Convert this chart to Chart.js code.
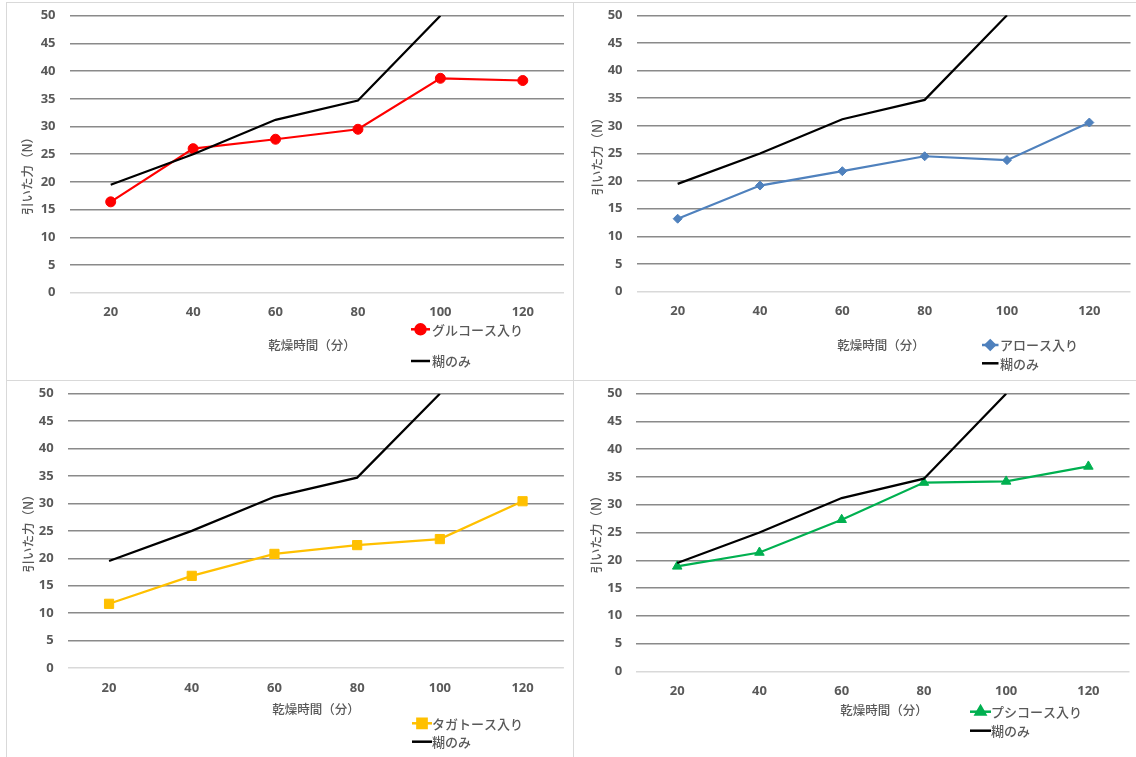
<!DOCTYPE html>
<html>
<head>
<meta charset="utf-8">
<script src="https://cdn.jsdelivr.net/npm/chart.js@4.4.1/dist/chart.umd.min.js"></script>
<style>
  html, body { margin: 0; padding: 0; background: #ffffff; }
  body { width: 1136px; height: 757px; position: relative; overflow: hidden; }
  .frame { position: absolute; box-sizing: border-box; border: 1px solid #d9d9d9; }
  canvas { position: absolute; }
</style>
</head>
<body>
<div class="frame" style="left:6px;top:2px;width:568px;height:379px"></div>
<div class="frame" style="left:573px;top:2px;width:580px;height:379px"></div>
<div class="frame" style="left:6px;top:380px;width:568px;height:400px"></div>
<div class="frame" style="left:573px;top:380px;width:580px;height:400px"></div>
<canvas id="c1"></canvas>
<canvas id="c2"></canvas>
<canvas id="c3"></canvas>
<canvas id="c4"></canvas>
<script>
// Drying time categories (minutes)
const dryingTimes = ['20', '40', '60', '80', '100', '120'];

// Value axis range and step
const yMin = 0;
const yMax = 50;
const yStep = 5;

// Pulling force (N) for paste only
const pasteOnly = [19.5, 25.0, 31.2, 34.7, 50.0, null];

// Pulling force (N) with each sugar added
const glucose  = [16.4, 26.0, 27.7, 29.5, 38.7, 38.3];
const allose   = [13.2, 19.2, 21.8, 24.5, 23.8, 30.6];
const tagatose = [11.7, 16.8, 20.8, 22.4, 23.5, 30.4];
const psicose  = [18.9, 21.4, 27.3, 34.0, 34.2, 36.9];

// Labels
const pasteLabel = '糊のみ';
const sugarLabels = ['グルコース入り', 'アロース入り', 'タガトース入り', 'プシコース入り'];
const xTitle = '乾燥時間（分）';
const yTitle = '引いた力（N）';

const TEXT_GREY = '#595959';
const CJK = '"Noto Sans CJK JP", "Noto Sans", sans-serif';

// Layout of the four panels (page coordinates)
const panels = [
  { id: 'c1', data: glucose,  label: sugarLabels[0], color: '#FF0000', point: 'circle',   radius: 5,
    box: { x: 7, y: 3, w: 566, h: 377 }, area: { l: 69.5, r: 564, t: 15.7, b: 292.7 },
    yT: { x: 27.5, y: 173 }, xT: { x: 312, y: 345 },
    leg: { x0: 411, x1: 430, tx: 432, y1: 329.3, y2: 361 } },
  { id: 'c2', data: allose,   label: sugarLabels[1], color: '#4F81BD', point: 'rectRot',  radius: 4.5,
    box: { x: 574, y: 3, w: 562, h: 377 }, area: { l: 636.5, r: 1131.2, t: 15.3, b: 291.7 },
    yT: { x: 597, y: 153.5 }, xT: { x: 881, y: 345.7 },
    leg: { x0: 982, x1: 998.5, tx: 1000, y1: 345, y2: 363.3 } },
  { id: 'c3', data: tagatose, label: sugarLabels[2], color: '#FFC000', point: 'rect',     radius: 6.5,
    box: { x: 7, y: 381, w: 566, h: 376 }, area: { l: 67.7, r: 563.9, t: 393.7, b: 668 },
    yT: { x: 28, y: 530.5 }, xT: { x: 316, y: 709 },
    leg: { x0: 412, x1: 432, tx: 432, y1: 723.3, y2: 741.7 } },
  { id: 'c4', data: psicose,  label: sugarLabels[3], color: '#00B050', point: 'triangle', radius: 5.5,
    box: { x: 574, y: 381, w: 562, h: 376 }, area: { l: 636.1, r: 1131.9, t: 393.7, b: 671.3 },
    yT: { x: 596.5, y: 531.5 }, xT: { x: 884, y: 710.7 },
    leg: { x0: 970, x1: 991, tx: 991, y1: 711.7, y2: 730.7 } }
];

// Axis titles and legend drawn at fixed spots inside each panel
const panelText = {
  id: 'panelText',
  afterDraw(chart, args, o) {
    const ctx = chart.ctx;
    ctx.save();
    ctx.fillStyle = TEXT_GREY;
    ctx.textBaseline = 'middle';

    // value axis title
    ctx.save();
    ctx.translate(o.yT.x, o.yT.y);
    ctx.rotate(-Math.PI / 2);
    ctx.textAlign = 'center';
    ctx.font = '500 12.5px ' + CJK;
    ctx.fillText(yTitle, 0, 0);
    ctx.restore();

    // category axis title
    ctx.textAlign = 'center';
    ctx.font = '500 12.5px ' + CJK;
    ctx.fillText(xTitle, o.xT.x, o.xT.y);

    // legend
    const L = o.leg;
    ctx.textAlign = 'left';
    ctx.font = '500 13px ' + CJK;
    const ds = chart.data.datasets;
    const rows = [[ds[0], L.y1], [ds[1], L.y2]];
    rows.forEach(([d, y]) => {
      ctx.strokeStyle = d.borderColor;
      ctx.lineWidth = 2.5;
      ctx.beginPath();
      ctx.moveTo(L.x0, y);
      ctx.lineTo(L.x1, y);
      ctx.stroke();
      if (d.pointRadius > 0) {
        ctx.fillStyle = d.pointBackgroundColor;
        ctx.strokeStyle = d.pointBorderColor;
        Chart.helpers.drawPoint(ctx, {
          pointStyle: d.pointStyle, radius: d.pointRadius, rotation: 0, borderWidth: 1
        }, (L.x0 + L.x1) / 2, y);
      }
      ctx.fillStyle = TEXT_GREY;
      ctx.fillText(d.label, L.tx, y + 0.5);
    });
    ctx.restore();
  }
};

panels.forEach(p => {
  const canvas = document.getElementById(p.id);
  canvas.style.left = p.box.x + 'px';
  canvas.style.top = p.box.y + 'px';
  canvas.width = p.box.w;
  canvas.height = p.box.h;

  // margins around the plot area, relative to this canvas
  const off = {
    leftW: p.area.l - p.box.x,
    top: p.area.t - p.box.y,
    right: (p.box.x + p.box.w) - p.area.r,
    bottomH: (p.box.y + p.box.h) - p.area.b
  };
  const yT = { x: p.yT.x - p.box.x, y: p.yT.y - p.box.y };
  const xT = { x: p.xT.x - p.box.x, y: p.xT.y - p.box.y };
  const leg = {
    x0: p.leg.x0 - p.box.x, x1: p.leg.x1 - p.box.x, tx: p.leg.tx - p.box.x,
    y1: p.leg.y1 - p.box.y, y2: p.leg.y2 - p.box.y
  };

  new Chart(canvas, {
    type: 'line',
    data: {
      labels: dryingTimes,
      datasets: [
        {
          label: p.label,
          data: p.data,
          borderColor: p.color,
          backgroundColor: p.color,
          pointBackgroundColor: p.color,
          pointBorderColor: p.color,
          pointStyle: p.point,
          pointRadius: p.radius,
          pointBorderWidth: 1,
          borderWidth: 2.2,
          tension: 0,
          order: 1
        },
        {
          label: pasteLabel,
          data: pasteOnly,
          borderColor: '#000000',
          backgroundColor: '#000000',
          pointBackgroundColor: '#000000',
          pointBorderColor: '#000000',
          pointRadius: 0,
          borderWidth: 2.2,
          tension: 0,
          spanGaps: false,
          order: 0
        }
      ]
    },
    options: {
      responsive: false,
      animation: false,
      devicePixelRatio: 1,
      layout: { padding: { left: 0, top: off.top, right: off.right, bottom: 0 } },
      plugins: {
        legend: { display: false },
        tooltip: { enabled: false },
        panelText: { yT, xT, leg }
      },
      scales: {
        x: {
          type: 'category',
          offset: true,
          grid: { display: false, drawTicks: false },
          border: { display: false },
          ticks: {
            color: TEXT_GREY,
            font: { family: '"Noto Sans", sans-serif', size: 13, weight: 'bold' },
            padding: 12,
            maxRotation: 0
          },
          afterFit(scale) {
            scale.height = off.bottomH;
            scale.paddingLeft = 0;
            scale.paddingRight = 0;
          }
        },
        y: {
          min: yMin,
          max: yMax,
          ticks: {
            stepSize: yStep,
            color: TEXT_GREY,
            font: { family: '"Noto Sans", sans-serif', size: 13, weight: 'bold' },
            padding: 14
          },
          grid: {
            drawTicks: false,
            lineWidth: 1.5,
            color: c => (c.tick && c.tick.value === 0) ? '#d9d9d9' : '#8a8a8a'
          },
          border: { display: false },
          afterFit(scale) {
            scale.width = off.leftW;
            scale.paddingTop = 0;
            scale.paddingBottom = 0;
          }
        }
      }
    },
    plugins: [panelText]
  });
});
</script>
</body>
</html>
